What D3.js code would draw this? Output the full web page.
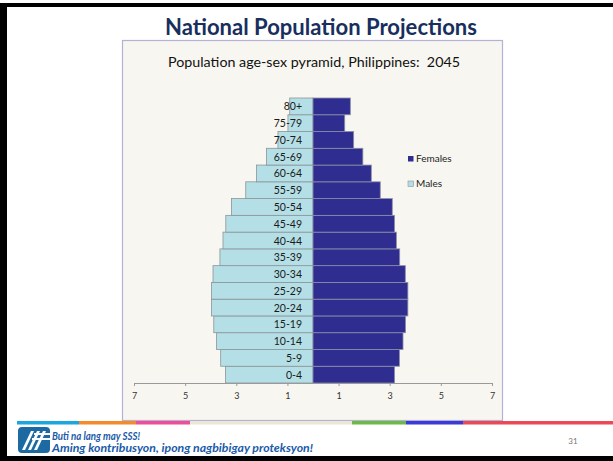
<!DOCTYPE html>
<html>
<head>
<meta charset="utf-8">
<script src="https://d3js.org/d3.v7.min.js"></script>
<style>
  body { margin: 0; background: #fff; }
  svg { display: block; font-family: Lato, "Open Sans", sans-serif; }
</style>
</head>
<body>
<div id="chart"></div>
<script>
// age groups, bottom to top
var ageGroups = ["0-4", "5-9", "10-14", "15-19", "20-24", "25-29", "30-34", "35-39",
                 "40-44", "45-49", "50-54", "55-59", "60-64", "65-69", "70-74", "75-79", "80+"];
// percent of population
var males   = [3.42, 3.61, 3.77, 3.88, 3.97, 3.97, 3.91, 3.64, 3.52, 3.41, 3.19, 2.63, 2.21, 1.82, 1.37, 0.98, 0.91];
var females = [3.19, 3.38, 3.52, 3.62, 3.71, 3.71, 3.61, 3.39, 3.26, 3.19, 3.10, 2.63, 2.28, 1.95, 1.59, 1.24, 1.46];
var tickValues = [-7, -5, -3, -1, 1, 3, 5, 7];
var legendItems = ["Females", "Males"];
var stripeColors = ["#1ba6e0", "#f58a2b", "#ee4e98", "#ece6d4", "#6dbb45", "#3a3ad6", "#ea4a58"];
var stripeStops  = [17, 79, 136, 190, 352, 406, 463, 613];

var W = 613, H = 461;
var svg = d3.select("#chart").append("svg").attr("width", W).attr("height", H);

// slide frame
svg.append("rect").attr("x", 0).attr("y", 3).attr("width", W).attr("height", 4).attr("fill", "#000");
svg.append("rect").attr("x", 0).attr("y", 3).attr("width", 7).attr("height", H - 3).attr("fill", "#000");
svg.append("rect").attr("x", 0).attr("y", 456).attr("width", W).attr("height", 5).attr("fill", "#000");

svg.append("text")
  .attr("x", 321).attr("y", 35)
  .attr("text-anchor", "middle")
  .attr("font-size", 22).attr("font-weight", "bold")
  .attr("fill", "#182f5e")
  .attr("textLength", 312).attr("lengthAdjust", "spacingAndGlyphs")
  .text("National Population Projections");

// chart area box
svg.append("rect")
  .attr("x", 122.5).attr("y", 40.5).attr("width", 380).attr("height", 380)
  .attr("fill", "#f8f6f0").attr("stroke", "#b3b1d6").attr("stroke-width", 1.2);

svg.append("text")
  .attr("x", 314).attr("y", 67)
  .attr("text-anchor", "middle")
  .style("white-space", "pre")
  .attr("font-size", 14).attr("fill", "#111")
  .attr("textLength", 292).attr("lengthAdjust", "spacingAndGlyphs")
  .text("Population age-sex pyramid, Philippines:  2045");

var x = d3.scaleLinear().domain([-7, 7]).range([134, 492]);
var y = d3.scaleBand().domain(ageGroups).range([383, 98]).padding(0);

var maleColor = "#b5dfe6", femaleColor = "#2f2d8f";

svg.append("g").selectAll("rect").data(ageGroups).join("rect")
  .attr("x", function (d, i) { return x(-males[i]); })
  .attr("y", function (d) { return y(d); })
  .attr("width", function (d, i) { return x(0) - x(-males[i]); })
  .attr("height", y.bandwidth())
  .attr("fill", maleColor).attr("stroke", "#8a9598").attr("stroke-width", 0.8);

svg.append("g").selectAll("rect").data(ageGroups).join("rect")
  .attr("x", x(0))
  .attr("y", function (d) { return y(d); })
  .attr("width", function (d, i) { return x(females[i]) - x(0); })
  .attr("height", y.bandwidth())
  .attr("fill", femaleColor).attr("stroke", "#8a8fa8").attr("stroke-width", 0.8);

// age labels sit next to the axis
svg.append("g").selectAll("text").data(ageGroups).join("text")
  .attr("x", 302)
  .attr("y", function (d) { return y(d) + y.bandwidth() / 2 + 4; })
  .attr("text-anchor", "end")
  .attr("font-size", 10.5).attr("fill", "#1a1a1a")
  .text(function (d) { return d; });

var axis = d3.axisBottom(x).tickValues(tickValues).tickSize(3)
  .tickFormat(function (d) { return Math.abs(d); });
var gx = svg.append("g").attr("transform", "translate(0,383)").call(axis);
gx.select(".domain").attr("stroke", "#9a9a9a");
gx.selectAll(".tick line").attr("stroke", "#9a9a9a");
gx.selectAll(".tick text").attr("y", 10).attr("font-size", 9).attr("fill", "#333")
  .attr("font-family", "Lato, sans-serif");

// legend
var leg = svg.append("g").selectAll("g").data(legendItems).join("g")
  .attr("transform", function (d, i) { return "translate(408," + (156 + i * 25) + ")"; });
leg.append("rect").attr("width", 5.5).attr("height", 5.5)
  .attr("fill", function (d) { return d === "Females" ? femaleColor : maleColor; })
  .attr("stroke", function (d) { return d === "Females" ? "none" : "#8a9598"; })
  .attr("stroke-width", 0.6);
leg.append("text").attr("x", 8).attr("y", 6).attr("font-size", 10).attr("fill", "#222")
  .text(function (d) { return d; });

// footer colour stripe
svg.append("g").selectAll("rect").data(stripeColors).join("rect")
  .attr("x", function (d, i) { return stripeStops[i]; })
  .attr("y", 421)
  .attr("width", function (d, i) { return stripeStops[i + 1] - stripeStops[i]; })
  .attr("height", 3.5)
  .attr("fill", function (d) { return d; });

// logo
var logo = svg.append("g").attr("transform", "translate(18,427)");
logo.append("rect").attr("width", 32).attr("height", 26).attr("rx", 4).attr("fill", "#1d6aa3");
[0, 6, 12].forEach(function (o) {
  logo.append("path")
    .attr("d", "M" + (4 + o) + ",23 L" + (13 + o) + ",4 L" + (16 + o) + ",4 L" + (7 + o) + ",23 Z")
    .attr("fill", "#fff");
});
logo.append("rect").attr("x", 16).attr("y", 6).attr("width", 16).attr("height", 2).attr("fill", "#fff");
logo.append("rect").attr("x", 14).attr("y", 11).attr("width", 18).attr("height", 2).attr("fill", "#fff");

svg.append("text").attr("x", 52).attr("y", 440)
  .attr("font-size", 10.5).attr("font-weight", "bold").attr("font-style", "italic")
  .attr("fill", "#1a5aa8")
  .attr("textLength", 88).attr("lengthAdjust", "spacingAndGlyphs")
  .text("Buti na lang may SSS!");
svg.append("text").attr("x", 52).attr("y", 452)
  .attr("font-size", 10.5).attr("font-weight", "bold").attr("font-style", "italic")
  .attr("fill", "#1a5aa8")
  .attr("textLength", 261).attr("lengthAdjust", "spacingAndGlyphs")
  .text("Aming kontribusyon, ipong nagbibigay proteksyon!");

svg.append("text").attr("x", 573).attr("y", 444).attr("font-size", 8).attr("fill", "#777")
  .attr("text-anchor", "middle").text("31");
</script>
</body>
</html>
